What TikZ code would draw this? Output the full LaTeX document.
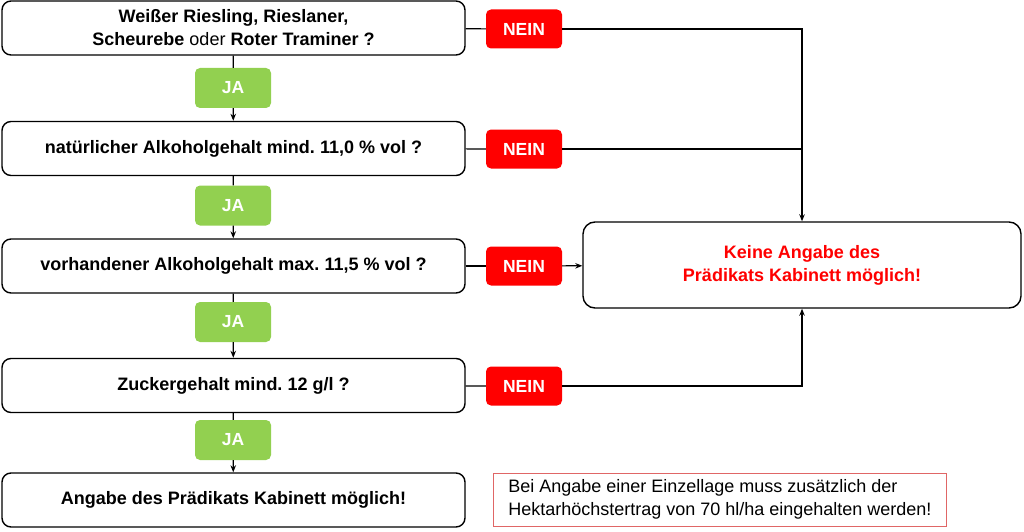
\documentclass[tikz,border=0pt]{standalone}
\usepackage{fontspec}
\setmainfont{Liberation Sans}
\frenchspacing
\usetikzlibrary{arrows.meta,positioning}
\definecolor{neinred}{HTML}{FF0000}
\definecolor{jagreen}{HTML}{92D050}
\definecolor{notered}{HTML}{E06666}

\begin{document}
\begin{tikzpicture}[x=1pt,y=-1pt,
    frage/.style={draw,line width=1.4pt,rounded corners=9pt,minimum width=463pt,minimum height=54pt,
        inner sep=0pt,align=center,font=\fontsize{18}{23}\selectfont\bfseries},
    ja/.style={fill=jagreen,rounded corners=5pt,minimum width=76pt,minimum height=40pt,inner sep=0pt,
        text=white,font=\fontsize{17.5}{20}\selectfont\bfseries},
    nein/.style={fill=neinred,rounded corners=5pt,minimum width=76pt,minimum height=39pt,inner sep=0pt,
        text=white,font=\fontsize{17.5}{20}\selectfont\bfseries},
    pfeil/.style={line width=1.2pt,-{Stealth[length=7pt,width=5.5pt]}},
    linie/.style={line width=1.2pt}]
    \useasboundingbox (0,0) rectangle (1024,532);

    % Fragen
    \node[frage] (q1) at (233.5,28) {Weißer Riesling, Rieslaner,\\Scheurebe \mdseries oder \bfseries Roter Traminer ?};
    \node[frage] (q2) at (233.5,148.5) {natürlicher Alkoholgehalt mind. 11,0 \% vol ?};
    \node[frage] (q3) at (233.5,266) {vorhandener Alkoholgehalt max. 11,5 \% vol ?};
    \node[frage] (q4) at (233.5,385.5) {Zuckergehalt mind. 12 g/l ?};
    \node[frage] (q5) at (233.5,500) {Angabe des Prädikats Kabinett möglich!};

    % JA
    \node[ja] (ja1) at (233,88) {JA};
    \node[ja] (ja2) at (233,205.5) {JA};
    \node[ja] (ja3) at (233,322) {JA};
    \node[ja] (ja4) at (233,440) {JA};

    % NEIN
    \node[nein] (n1) at (524,29) {NEIN};
    \node[nein] (n2) at (524,149) {NEIN};
    \node[nein] (n3) at (524,266) {NEIN};
    \node[nein] (n4) at (524,386) {NEIN};

    % Ergebnis und Hinweis
    \node[draw,line width=1.4pt,rounded corners=12pt,minimum width=438pt,minimum height=86pt,inner sep=0pt,
        align=center,text=neinred,font=\fontsize{18}{23}\selectfont\bfseries] (res) at (802,265)
        {Keine Angabe des\\Prädikats Kabinett möglich!};
    \node[draw=notered,line width=0.8pt,anchor=west,minimum width=453pt,minimum height=53pt,
        inner xsep=10pt,inner ysep=0pt,align=left,font=\fontsize{18}{23}\selectfont] (note) at (493,499.5)
        {Bei Angabe einer Einzellage muss zusätzlich der\\Hektarhöchstertrag von 70 hl/ha eingehalten werden!};

    \coordinate (j2) at (n2 -| res);

    % Verbindungen
    \draw[linie] (q1) -- (ja1);
    \draw[pfeil] (ja1) -- (q2);
    \draw[linie] (q2) -- (ja2);
    \draw[pfeil] (ja2) -- (q3);
    \draw[linie] (q3) -- (ja3);
    \draw[pfeil] (ja3) -- (q4);
    \draw[linie] (q4) -- (ja4);
    \draw[pfeil] (ja4) -- (q5);

    \draw[linie] (q1) -- (n1);
    \draw[linie] (q2) -- (n2);
    \draw[linie] (q3) -- (n3);
    \draw[linie] (q4) -- (n4);
    \draw[pfeil] (n1) -| (res);
    \draw[linie] (n2) -- (j2);
    \draw[pfeil] (n3) -- (res);
    \draw[pfeil] (n4) -| (res);
\end{tikzpicture}
\end{document}
